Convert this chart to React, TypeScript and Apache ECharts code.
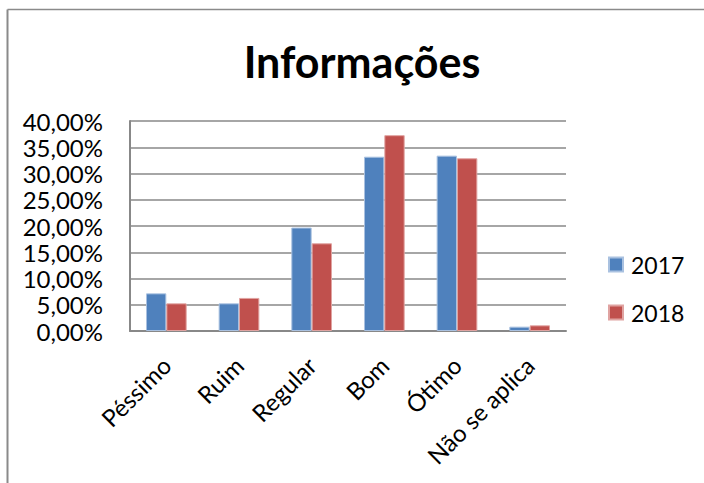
import React, { useEffect, useRef } from "react";
import * as echarts from "echarts";

const categories = ["Péssimo", "Ruim", "Regular", "Bom", "Ótimo", "Não se aplica"];
const values2017 = [7.17, 5.27, 19.7, 33.2, 33.4, 0.83];
const values2018 = [5.27, 6.3, 16.7, 37.3, 32.9, 1.08];
const seriesNames = ["2017", "2018"];
const yTicks = { min: 0, max: 40, interval: 5 };
const titleText = "Informações";

const FONT = "Lato, 'Open Sans', sans-serif";

export default function App() {
  const ref = useRef<HTMLDivElement>(null);
  useEffect(() => {
    document.body.style.margin = "0";
    const chart = echarts.init(ref.current!, null, { renderer: "svg" });
    chart.setOption({
      animation: false,
      backgroundColor: "#ffffff",
      title: {
        text: titleText,
        left: 357,
        textAlign: "center",
        top: 35,
        textStyle: { fontFamily: FONT, fontWeight: "bold", fontSize: 43, color: "#000" },
      },
      graphic: [
        { type: "line", shape: { x1: 7.5, y1: 9.5, x2: 704, y2: 9.5 }, style: { stroke: "#8a8a8a", lineWidth: 1.5 } },
        { type: "line", shape: { x1: 7.5, y1: 9.5, x2: 7.5, y2: 483 }, style: { stroke: "#8a8a8a", lineWidth: 2 } },
      ],
      legend: {
        orient: "vertical",
        left: 608,
        top: 253,
        padding: 0,
        itemWidth: 14,
        itemHeight: 14,
        itemGap: 25,
        icon: "rect",
        textStyle: { fontFamily: FONT, fontSize: 23, color: "#000", padding: [0, 0, 0, 3] },
        data: seriesNames,
      },
      grid: { left: 130, right: 138, top: 121, bottom: 152, containLabel: false },
      xAxis: {
        type: "category",
        data: categories,
        axisLine: { lineStyle: { color: "#888888", width: 2 } },
        axisTick: { show: false },
        axisLabel: {
          interval: 0,
          rotate: 45,
          margin: 30,
          fontFamily: FONT,
          fontSize: 24,
          color: "#000",
        },
      },
      yAxis: {
        type: "value",
        min: yTicks.min,
        max: yTicks.max,
        interval: yTicks.interval,
        axisLine: { show: true, lineStyle: { color: "#888888", width: 2 } },
        axisTick: { show: false },
        splitLine: { lineStyle: { color: "#888888", width: 1.5 } },
        axisLabel: {
          margin: 27,
          fontFamily: FONT,
          fontSize: 24,
          color: "#000",
          formatter: (v: number) => v.toFixed(2).replace(".", ",") + "%",
        },
      },
      series: [
        {
          name: seriesNames[0],
          type: "bar",
          data: values2017,
          barGap: "0%",
          barCategoryGap: "44%",
          itemStyle: { color: "#4F81BD", borderColor: "#a9c1e0", borderWidth: 1 },
        },
        {
          name: seriesNames[1],
          type: "bar",
          data: values2018,
          itemStyle: { color: "#C0504D", borderColor: "#e0a3a1", borderWidth: 1 },
        },
      ],
    });
    return () => chart.dispose();
  }, []);
  return <div ref={ref} style={{ width: 704, height: 483, position: "absolute", left: 0, top: 0 }} />;
}
